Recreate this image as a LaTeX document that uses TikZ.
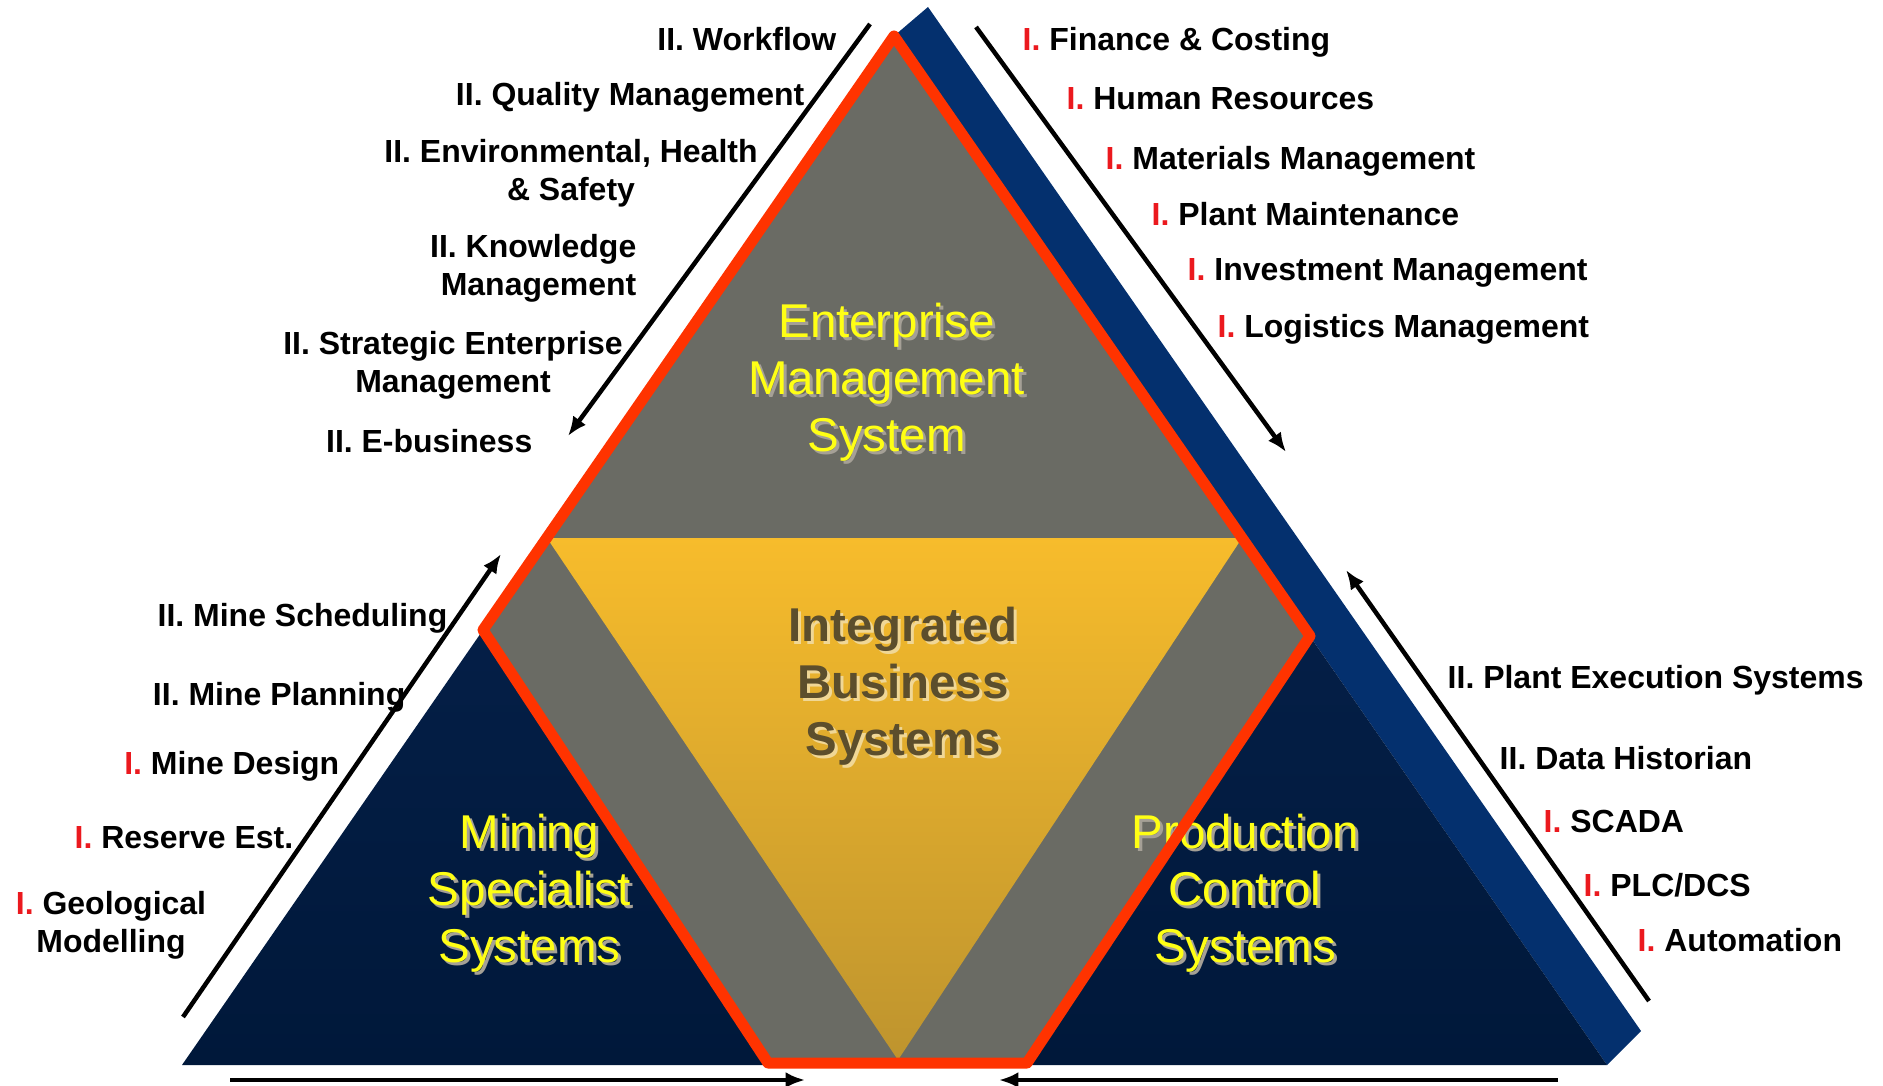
\documentclass[tikz,border=0pt]{standalone}
\usepackage{fontspec}
\setmainfont{Liberation Sans}
\usetikzlibrary{calc,arrows.meta}

\definecolor{stripblue}{RGB}{4,48,110}
\definecolor{navytop}{RGB}{10,40,88}
\definecolor{navybot}{RGB}{0,24,58}
\definecolor{hexgray}{RGB}{106,107,100}
\definecolor{goldtop}{RGB}{247,188,44}
\definecolor{goldbot}{RGB}{190,148,46}
\definecolor{rimred}{RGB}{255,51,0}
\definecolor{lvlred}{RGB}{235,25,30}
\definecolor{sysyellow}{RGB}{255,255,20}
\definecolor{sysshade}{RGB}{165,160,150}
\definecolor{ibsbrown}{RGB}{92,78,44}
\definecolor{ibsshade}{RGB}{240,215,150}

\def\lvlone{\textcolor{lvlred}{I.}}
\def\sysname[#1](#2)(#3)#4{\node[#1 shade] (#2-sh) at ($(#3)+(0.03, -0.03)$) {#4};
	\node[#1] (#2) at (#3) {#4};}

\begin{document}
\begin{tikzpicture}[
		lbl/.style={font=\fontsize{9.1}{10.9}\selectfont\bfseries, inner sep=0pt},
		flow/.style={line width=0.45mm, -{Latex[length=5.5pt, width=4.5pt]}},
		sysfont/.style={font=\fontsize{13.5}{16.25}\selectfont, align=center, inner sep=0pt},
		yellowsys/.style={sysfont, text=sysyellow},
		yellowsys shade/.style={sysfont, text=sysshade},
		ibs/.style={sysfont, font=\fontsize{13.5}{16.25}\selectfont\bfseries, text=ibsbrown},
		ibs shade/.style={ibs, text=ibsshade}]
		%%%%% START %%%%%
		\useasboundingbox (0, 0) rectangle (18.83, 10.85);
		
		\coordinate (L) at (1.82, 0.20);
		\coordinate (A) at (8.94, 10.49);
		\coordinate (R) at (16.07, 0.20);
		\coordinate (SA) at (9.28, 10.78);
		\coordinate (SR) at (16.41, 0.54);
		\coordinate (PL) at (4.83, 4.55);
		\coordinate (PR) at (13.10, 4.49);
		\coordinate (BL) at (7.68, 0.22);
		\coordinate (BR) at (10.27, 0.22);
		\coordinate (YL) at (5.47, 5.47);
		\coordinate (YR) at (12.42, 5.47);
		\coordinate (YB) at (8.98, 0.25);
		
		% pyramid
		\fill[stripblue] (A) -- (SA) -- (SR) -- (R) -- cycle;
		\shade[top color=navytop, bottom color=navybot] (L) -- (A) -- (R) -- cycle;
		\fill[hexgray] (A) -- (PL) -- (BL) -- (BR) -- (PR) -- cycle;
		\shade[top color=goldtop, bottom color=goldbot] (YL) -- (YR) -- (YB) -- cycle;
		
		\sysname[yellowsys](ems)(8.865, 7.03){Enterprise\\Management\\System}
		\sysname[ibs](ibs)(9.03, 3.99){Integrated\\Business\\Systems}
		\sysname[yellowsys](mss)(5.295, 1.92){Mining\\Specialist\\Systems}
		\sysname[yellowsys](pcs)(12.45, 1.92){Production\\Control\\Systems}
		
		\draw[rimred, line width=1.1mm, line join=round] (A) -- (PL) -- (BL) -- (BR) -- (PR) -- cycle;
		
		% top left
		\node[lbl, anchor=base east] (wf) at (8.37, 10.34) {II. Workflow};
		\node[lbl, anchor=base east] (qm) at (8.05, 9.79) {II. Quality Management};
		\node[lbl, align=center] (ehs) at (5.71, 9.12) {II. Environmental, Health\\\& Safety};
		\node[lbl, align=right, anchor=east] (km) at (6.37, 8.17) {II. Knowledge\\Management};
		\node[lbl, align=center] (sem) at (4.53, 7.20) {II. Strategic Enterprise\\Management};
		\node[lbl, anchor=base east] (eb) at (5.33, 6.32) {II. E-business};
		
		% top right
		\node[lbl, anchor=base west] (fc) at (10.22, 10.34) {\lvlone{} Finance \& Costing};
		\node[lbl, anchor=base west] (hr) at (10.66, 9.75) {\lvlone{} Human Resources};
		\node[lbl, anchor=base west] (mm) at (11.05, 9.15) {\lvlone{} Materials Management};
		\node[lbl, anchor=base west] (pm) at (11.51, 8.59) {\lvlone{} Plant Maintenance};
		\node[lbl, anchor=base west] (im) at (11.87, 8.04) {\lvlone{} Investment Management};
		\node[lbl, anchor=base west] (lm) at (12.17, 7.47) {\lvlone{} Logistics Management};
		
		% bottom left
		\node[lbl, anchor=base east] (ms) at (4.48, 4.59) {II. Mine Scheduling};
		\node[lbl, anchor=base east] (mp) at (4.06, 3.80) {II. Mine Planning};
		\node[lbl, anchor=base east] (md) at (3.40, 3.11) {\lvlone{} Mine Design};
		\node[lbl, anchor=base east] (re) at (2.94, 2.37) {\lvlone{} Reserve Est.};
		\node[lbl, align=center] (gm) at (1.11, 1.60) {\lvlone{} Geological\\Modelling};
		
		% bottom right
		\node[lbl, anchor=base west] (pe) at (14.47, 3.97) {II. Plant Execution Systems};
		\node[lbl, anchor=base west] (dh) at (14.99, 3.16) {II. Data Historian};
		\node[lbl, anchor=base west] (sc) at (15.43, 2.53) {\lvlone{} SCADA};
		\node[lbl, anchor=base west] (plc) at (15.83, 1.89) {\lvlone{} PLC/DCS};
		\node[lbl, anchor=base west] (au) at (16.37, 1.34) {\lvlone{} Automation};
		
		% flow arrows
		\coordinate (tl0) at (8.70, 10.61);
		\coordinate (tl1) at (5.68, 6.49);
		\coordinate (tr0) at (9.76, 10.58);
		\coordinate (tr1) at (12.86, 6.33);
		\coordinate (bl0) at (1.83, 0.68);
		\coordinate (bl1) at (5.01, 5.31);
		\coordinate (br0) at (16.49, 0.84);
		\coordinate (br1) at (13.46, 5.15);
		\coordinate (bb0) at (2.30, 0.05);
		\coordinate (bb1) at (8.05, 0.05);
		\coordinate (bb2) at (15.58, 0.05);
		\coordinate (bb3) at (9.99, 0.05);
		\draw[flow] (tl0) -- (tl1);
		\draw[flow] (tr0) -- (tr1);
		\draw[flow] (bl0) -- (bl1);
		\draw[flow] (br0) -- (br1);
		\draw[flow] (bb0) -- (bb1);
		\draw[flow] (bb2) -- (bb3);
		
		%%%%% END %%%%%
	\end{tikzpicture}
\end{document}
